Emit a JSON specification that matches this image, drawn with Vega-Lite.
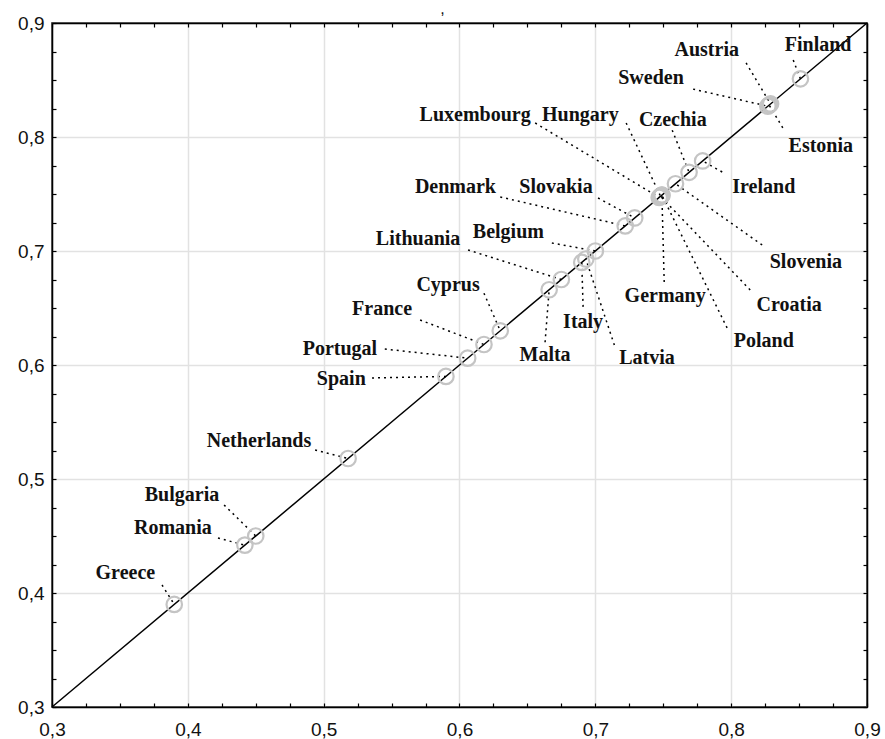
{
  "$schema": "https://vega.github.io/schema/vega-lite/v6.json",
  "width": 815,
  "height": 684,
  "autosize": "none",
  "padding": {"left": 52, "top": 23, "right": 18, "bottom": 32},
  "background": "white",
  "title": {"text": ",", "anchor": "middle", "fontSize": 16, "font": "Liberation Sans", "fontWeight": "normal", "color": "#111", "offset": 0, "dy": 3, "dx": -17},
  "config": {"view": {"stroke": "black", "strokeWidth": 1.5}},
  "datasets": {
    "diag": [{"d": 0.3}, {"d": 0.9}],
    "pts": [
      {"name": "Greece", "v": 0.39, "tx": 0.354, "ty": 0.4175, "sx": 0.381, "sy": 0.407},
      {"name": "Romania", "v": 0.442, "tx": 0.389, "ty": 0.457, "sx": 0.4222, "sy": 0.4482},
      {"name": "Bulgaria", "v": 0.45, "tx": 0.3957, "ty": 0.486, "sx": 0.4267, "sy": 0.4772},
      {"name": "Netherlands", "v": 0.518, "tx": 0.4524, "ty": 0.5333, "sx": 0.4937, "sy": 0.5254},
      {"name": "Spain", "v": 0.59, "tx": 0.513, "ty": 0.5877, "sx": 0.5356, "sy": 0.5886},
      {"name": "Portugal", "v": 0.606, "tx": 0.512, "ty": 0.614, "sx": 0.545, "sy": 0.614},
      {"name": "France", "v": 0.618, "tx": 0.543, "ty": 0.649, "sx": 0.571, "sy": 0.6395},
      {"name": "Cyprus", "v": 0.63, "tx": 0.5916, "ty": 0.67, "sx": 0.618, "sy": 0.663},
      {"name": "Malta", "v": 0.666, "tx": 0.663, "ty": 0.6088, "sx": 0.663, "sy": 0.62},
      {"name": "Lithuania", "v": 0.675, "tx": 0.5695, "ty": 0.7105, "sx": 0.6063, "sy": 0.7009},
      {"name": "Italy", "v": 0.69, "tx": 0.691, "ty": 0.6377, "sx": 0.691, "sy": 0.651},
      {"name": "Latvia", "v": 0.693, "tx": 0.738, "ty": 0.606, "sx": 0.714, "sy": 0.6175},
      {"name": "Belgium", "v": 0.7, "tx": 0.636, "ty": 0.717, "sx": 0.668, "sy": 0.707},
      {"name": "Denmark", "v": 0.722, "tx": 0.597, "ty": 0.756, "sx": 0.63, "sy": 0.7474},
      {"name": "Slovakia", "v": 0.729, "tx": 0.671, "ty": 0.756, "sx": 0.702, "sy": 0.7465},
      {"name": "Luxembourg", "v": 0.747, "tx": 0.6115, "ty": 0.819, "sx": 0.6557, "sy": 0.8123},
      {"name": "Hungary", "v": 0.748, "tx": 0.689, "ty": 0.819, "sx": 0.7227, "sy": 0.8123},
      {"name": "Germany", "v": 0.749, "tx": 0.7514, "ty": 0.6605, "sx": 0.7507, "sy": 0.6728},
      {"name": "Croatia", "v": 0.748, "tx": 0.8427, "ty": 0.6526, "sx": 0.814, "sy": 0.6658},
      {"name": "Poland", "v": 0.749, "tx": 0.824, "ty": 0.621, "sx": 0.797, "sy": 0.6325},
      {"name": "Slovenia", "v": 0.759, "tx": 0.855, "ty": 0.69, "sx": 0.8228, "sy": 0.7053},
      {"name": "Czechia", "v": 0.769, "tx": 0.757, "ty": 0.815, "sx": 0.7566, "sy": 0.806},
      {"name": "Ireland", "v": 0.779, "tx": 0.824, "ty": 0.756, "sx": 0.7934, "sy": 0.7693},
      {"name": "Sweden", "v": 0.827, "tx": 0.741, "ty": 0.852, "sx": 0.772, "sy": 0.842},
      {"name": "Austria", "v": 0.829, "tx": 0.782, "ty": 0.876, "sx": 0.811, "sy": 0.865},
      {"name": "Estonia", "v": 0.828, "tx": 0.866, "ty": 0.792, "sx": 0.838, "sy": 0.808},
      {"name": "Finland", "v": 0.851, "tx": 0.864, "ty": 0.881, "sx": 0.8457, "sy": 0.8675}
    ]
  },
  "layer": [
    {
      "data": {"name": "diag"},
      "mark": {"type": "line", "color": "black", "strokeWidth": 1.5},
      "encoding": {
        "x": {"field": "d", "type": "quantitative", "scale": {"domain": [0.3, 0.9], "nice": false, "zero": false},
          "axis": {"orient": "bottom", "title": null,
            "values": [0.3,0.325,0.35,0.375,0.4,0.425,0.45,0.475,0.5,0.525,0.55,0.575,0.6,0.625,0.65,0.675,0.7,0.725,0.75,0.775,0.8,0.825,0.85,0.875,0.9],
            "grid": true, "gridColor": "#e2e2e2", "gridWidth": 1.5,
            "gridOpacity": {"condition": {"test": "abs(datum.value*10-round(datum.value*10))<0.001", "value": 1}, "value": 0},
            "tickSize": -4, "tickColor": "black", "tickWidth": 1.2,
            "domainColor": "black", "domainWidth": 1.5,
            "labelExpr": "abs(datum.value*10-round(datum.value*10))<0.001 ? replace(format(datum.value,'.1f'),'.',',') : ''",
            "labelFont": "Liberation Sans", "labelFontSize": 19, "labelColor": "#111", "labelPadding": 17,
            "labelFlush": false, "labelOverlap": false}},
        "y": {"field": "d", "type": "quantitative", "scale": {"domain": [0.3, 0.9], "nice": false, "zero": false},
          "axis": {"orient": "left", "title": null,
            "values": [0.3,0.325,0.35,0.375,0.4,0.425,0.45,0.475,0.5,0.525,0.55,0.575,0.6,0.625,0.65,0.675,0.7,0.725,0.75,0.775,0.8,0.825,0.85,0.875,0.9],
            "grid": true, "gridColor": "#e2e2e2", "gridWidth": 1.5,
            "gridOpacity": {"condition": {"test": "abs(datum.value*10-round(datum.value*10))<0.001", "value": 1}, "value": 0},
            "tickSize": -4, "tickColor": "black", "tickWidth": 1.2,
            "domainColor": "black", "domainWidth": 1.5,
            "labelExpr": "abs(datum.value*10-round(datum.value*10))<0.001 ? replace(format(datum.value,'.1f'),'.',',') : ''",
            "labelFont": "Liberation Sans", "labelFontSize": 19, "labelColor": "#111", "labelPadding": 12,
            "labelFlush": false, "labelOverlap": false}}
      }
    },
    {
      "data": {"name": "pts"},
      "mark": {"type": "rule", "color": "black", "strokeWidth": 1.5, "strokeDash": [2, 4]},
      "encoding": {
        "x": {"field": "sx", "type": "quantitative",
          "axis": {"orient": "top", "title": null, "labels": false, "grid": false,
            "values": [0.3,0.325,0.35,0.375,0.4,0.425,0.45,0.475,0.5,0.525,0.55,0.575,0.6,0.625,0.65,0.675,0.7,0.725,0.75,0.775,0.8,0.825,0.85,0.875,0.9],
            "tickSize": -4, "tickColor": "black", "tickWidth": 1.2, "domainColor": "black", "domainWidth": 1.5}},
        "y": {"field": "sy", "type": "quantitative",
          "axis": {"orient": "right", "title": null, "labels": false, "grid": false,
            "values": [0.3,0.325,0.35,0.375,0.4,0.425,0.45,0.475,0.5,0.525,0.55,0.575,0.6,0.625,0.65,0.675,0.7,0.725,0.75,0.775,0.8,0.825,0.85,0.875,0.9],
            "tickSize": -4, "tickColor": "black", "tickWidth": 1.2, "domainColor": "black", "domainWidth": 1.5}},
        "x2": {"field": "v"},
        "y2": {"field": "v"}
      }
    },
    {
      "data": {"name": "pts"},
      "mark": {"type": "point", "shape": "circle", "filled": false, "size": 240, "stroke": "#c4c4c4", "strokeWidth": 2.2, "opacity": 1},
      "encoding": {
        "x": {"field": "v", "type": "quantitative", "axis": null},
        "y": {"field": "v", "type": "quantitative", "axis": null}
      }
    },
    {
      "data": {"name": "pts"},
      "mark": {"type": "text", "font": "Liberation Serif", "fontWeight": "bold", "fontSize": 20, "color": "#111", "align": "center", "baseline": "middle"},
      "encoding": {
        "x": {"field": "tx", "type": "quantitative", "axis": null},
        "y": {"field": "ty", "type": "quantitative", "axis": null},
        "text": {"field": "name"}
      }
    }
  ],
  "resolve": {"axis": {"x": "independent", "y": "independent"}}
}
